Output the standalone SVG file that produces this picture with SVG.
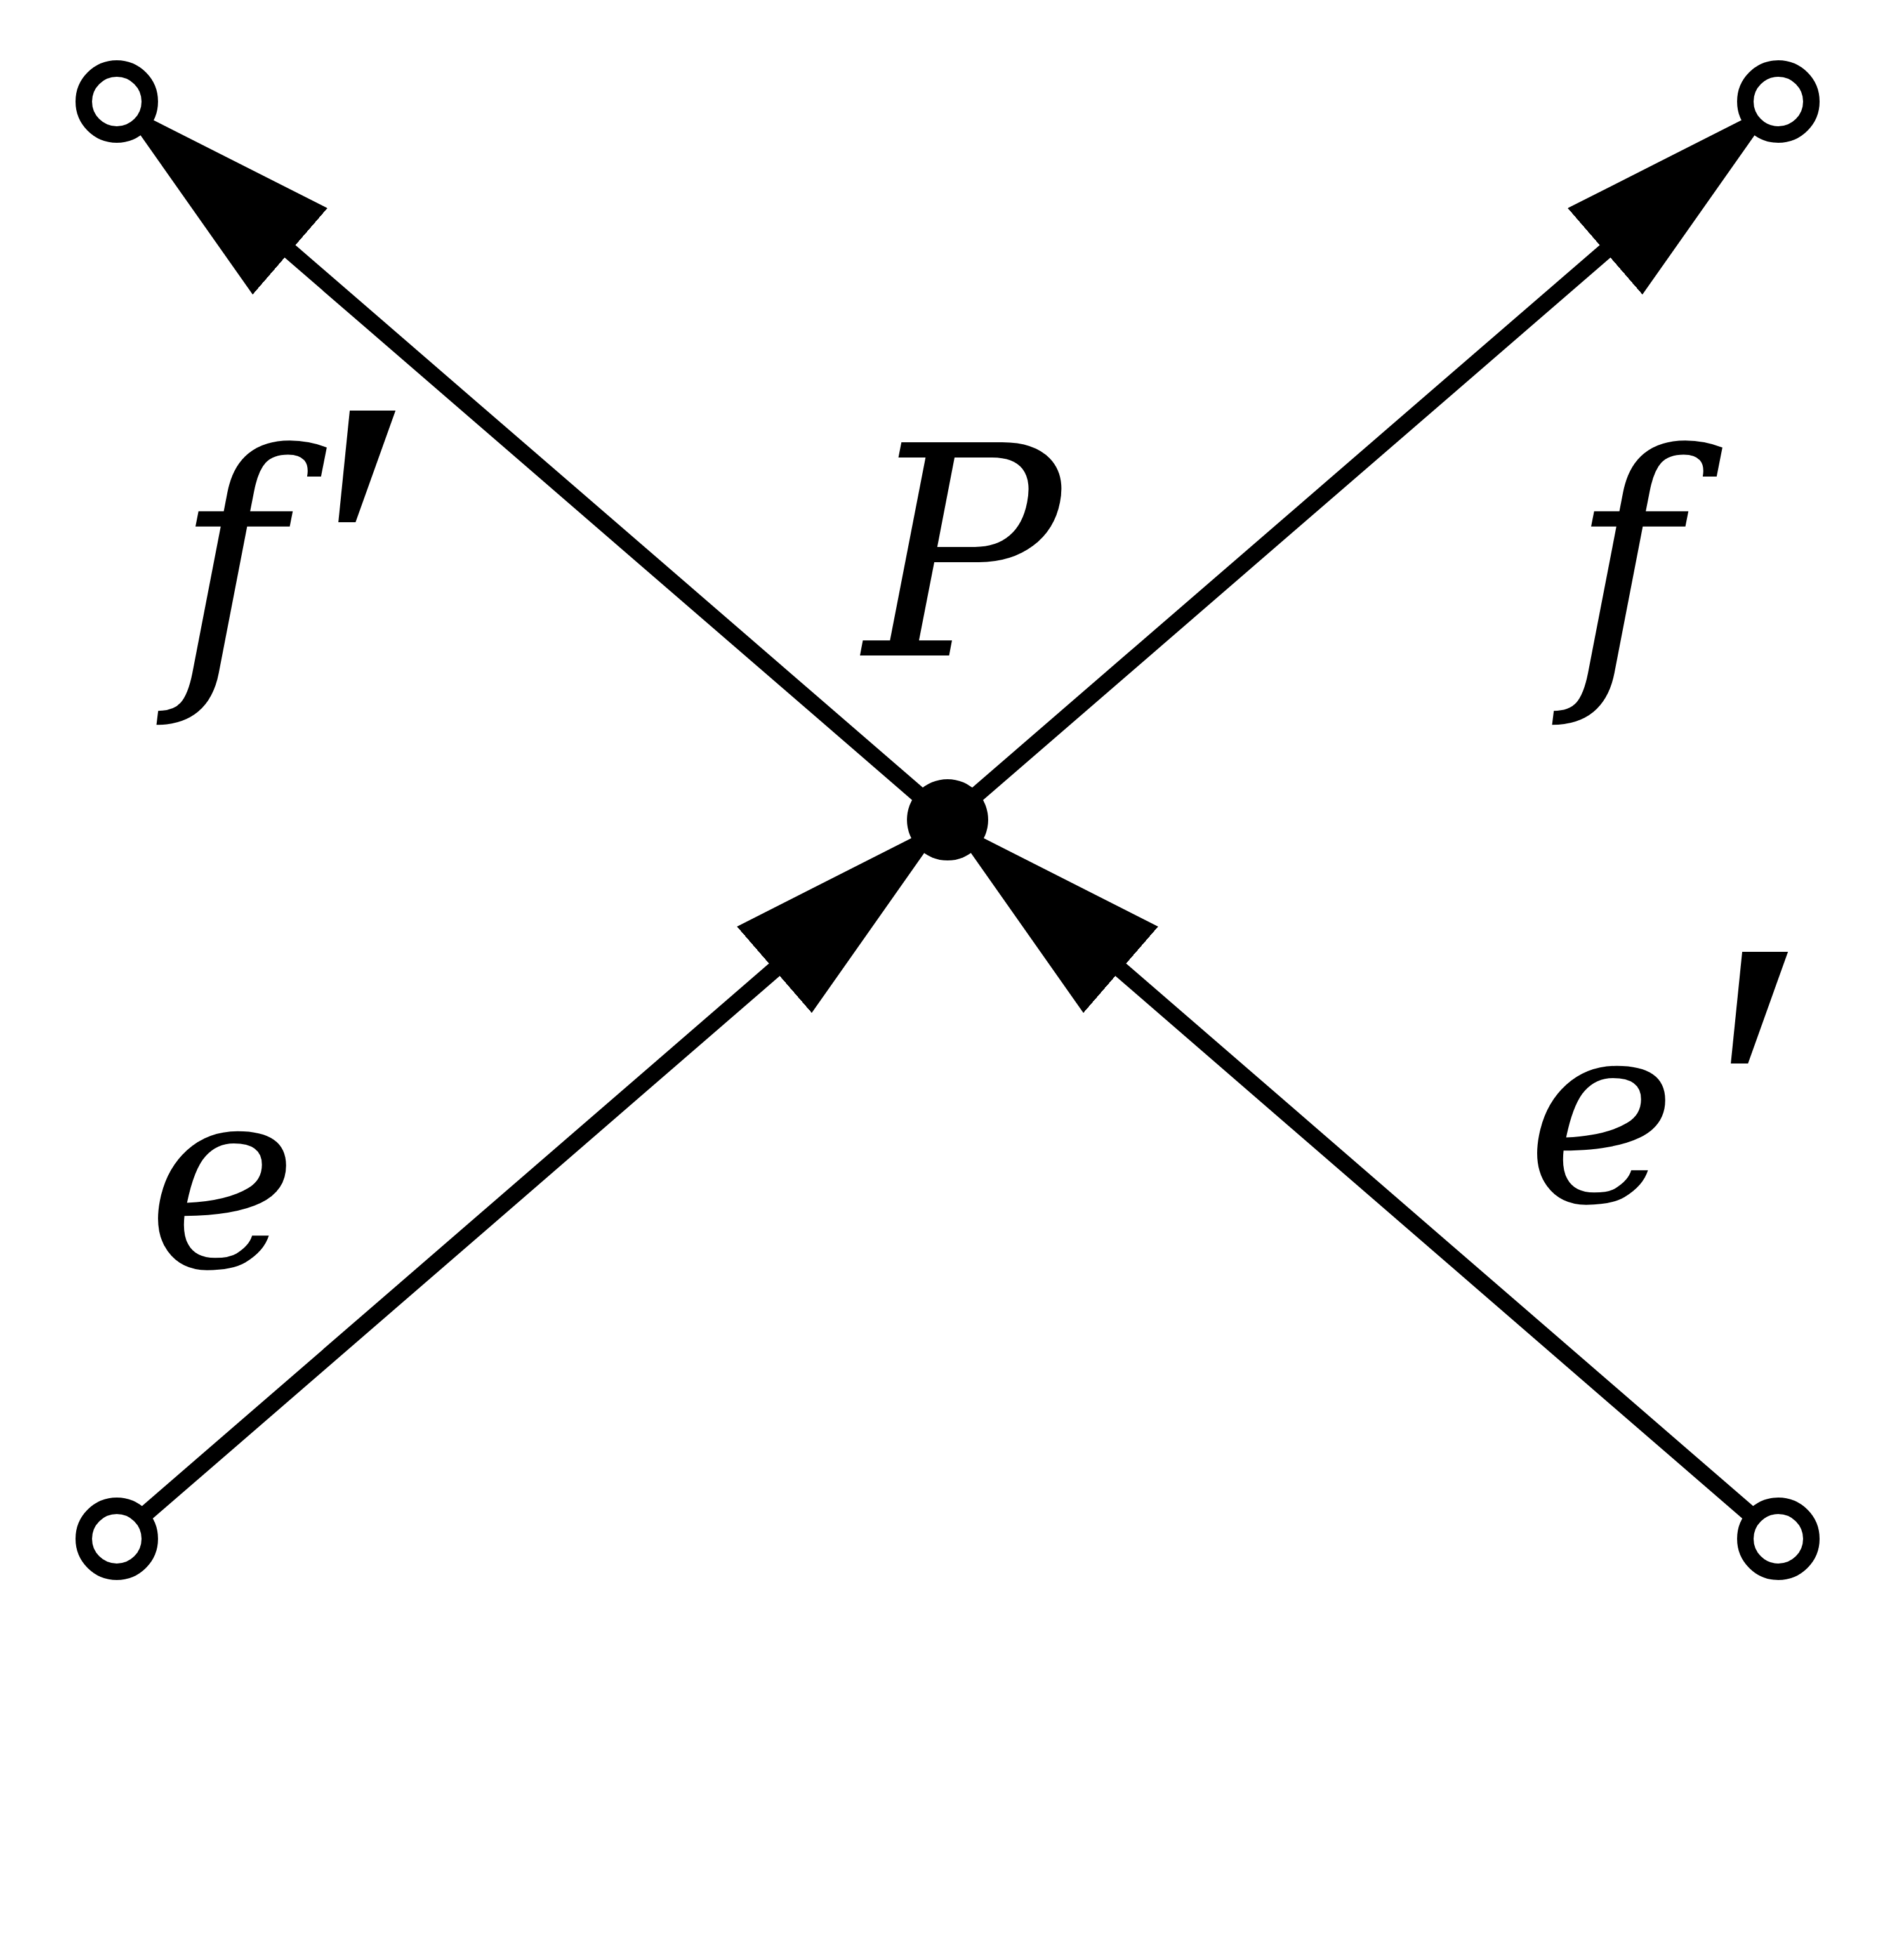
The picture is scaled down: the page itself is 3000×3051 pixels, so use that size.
<svg xmlns="http://www.w3.org/2000/svg" width="3000" height="3051" viewBox="0 0 3000 3051">
  <style>
    .edge { stroke: #000; stroke-width: 26; fill: none; }
    .port { fill: #fff; stroke: #000; stroke-width: 26; }
    .vertex { fill: #000; }
    .lbl { font-family: "DejaVu Serif", serif; font-style: italic; fill: #000; }
    .prime { font-family: "Liberation Serif", serif; font-style: italic; font-size: 750px; }
  </style>
  <defs>
    <marker id="arr" markerUnits="userSpaceOnUse" viewBox="0 0 361 180" markerWidth="361" markerHeight="180" refX="361" refY="90" orient="auto">
      <path d="M0,0 L361,90 L0,180 Z" fill="#000"/>
    </marker>
  </defs>
  <rect x="0" y="0" width="3000" height="3051" fill="#fff"/>
  <g id="connectors">
    <line class="edge" x1="184" y1="2425" x2="1493" y2="1292" marker-end="url(#arr)"/>
    <line class="edge" x1="2802" y1="2425" x2="1493" y2="1292" marker-end="url(#arr)"/>
    <line class="edge" x1="1493" y1="1292" x2="184" y2="160" marker-end="url(#arr)"/>
    <line class="edge" x1="1493" y1="1292" x2="2802" y2="160" marker-end="url(#arr)"/>
  </g>
  <g id="node-top-left"><circle class="port" cx="184" cy="160" r="52"/></g>
  <g id="node-top-right"><circle class="port" cx="2802" cy="160" r="52"/></g>
  <g id="node-bottom-left"><circle class="port" cx="184" cy="2425" r="52"/></g>
  <g id="node-bottom-right"><circle class="port" cx="2802" cy="2425" r="52"/></g>
  <g id="node-P"><circle class="vertex" cx="1493" cy="1292" r="64"/></g>
  <g id="labels">
    <text class="lbl" x="275" y="1046" font-size="463">f<tspan class="prime" x="450" y="1138">′</tspan></text>
    <text class="lbl" x="1362" y="1033" font-size="461">P</text>
    <text class="lbl" x="2474" y="1046" font-size="463">f</text>
    <text class="lbl" x="232" y="1996" font-size="400">e</text>
    <text class="lbl" x="2405" y="1893" font-size="400">e<tspan class="prime" x="2644" y="1991">′</tspan></text>
  </g>
</svg>
